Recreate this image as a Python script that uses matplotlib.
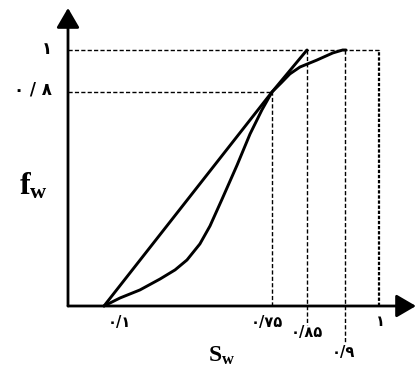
#!/usr/bin/env python3

import matplotlib
matplotlib.use('Agg')
import matplotlib.pyplot as plt
import numpy as np

# fractional flow curve (Sw, fw)
sw_curve = [0.1, 0.162, 0.239, 0.317, 0.375, 0.421, 0.471, 0.51, 0.557, 0.615, 0.665,
            0.711, 0.75, 0.776, 0.801, 0.83, 0.863, 0.884, 0.897, 0.903]
fw_curve = [0.0, 0.03, 0.06, 0.101, 0.135, 0.172, 0.232, 0.299, 0.4, 0.527, 0.643,
            0.733, 0.8, 0.843, 0.886, 0.919, 0.952, 0.986, 1.0, 1.0]

# tangent from Swc through the tangent point up to fw = 1
sw_tangent = [0.1, 0.75, 0.85]
fw_tangent = [0.0, 0.8, 1.0]

sw_ticks = [0.1, 0.75, 0.85, 0.9, 1.0]
sw_labels = ['۰/۱', '۰/۷۵', '۰/۸۵', '۰/۹', '۱']
fw_ticks = [1.0, 0.8]
fw_labels = ['۱', '۰ / ۸']

# the sketch is not drawn to scale, so the axes use a piecewise scale
SW_KNOTS = [-0.5, 0.0, 0.1, 0.75, 0.85, 0.9, 1.0, 1.5]
X_PIX = [-112, 68, 104, 272, 307, 345, 379, 549]
FW_KNOTS = [-0.5, 0.0, 0.8, 1.0, 1.5]
Y_PIX = [-70, 64, 278, 320, 425]


def fx(v):
    return np.interp(v, SW_KNOTS, X_PIX)


def fx_inv(p):
    return np.interp(p, X_PIX, SW_KNOTS)


def fy(v):
    return np.interp(v, FW_KNOTS, Y_PIX)


def fy_inv(p):
    return np.interp(p, Y_PIX, FW_KNOTS)


def plot():
    plt.rcParams['font.family'] = ['DejaVu Sans', 'Noto Sans']
    plt.rcParams['mathtext.fontset'] = 'custom'
    plt.rcParams['mathtext.bf'] = 'Liberation Serif:bold'
    plt.rcParams['mathtext.rm'] = 'Liberation Serif'

    fig = plt.figure(figsize=(4.16, 3.70), dpi=100)
    ax = fig.add_axes([0, 0, 1, 1])
    ax.set_xscale('function', functions=(fx, fx_inv))
    ax.set_yscale('function', functions=(fy, fy_inv))
    ax.set_xlim(fx_inv(0), fx_inv(416))
    ax.set_ylim(fy_inv(0), fy_inv(370))
    ax.axis('off')

    dash = dict(color='k', lw=1.0, ls=(0, (3, 1.6)))
    ax.plot([0, 1.0], [1.0, 1.0], **dash)
    ax.plot([0, 0.75], [0.8, 0.8], **dash)
    ax.plot([0.75, 0.75], [0, 0.8], **dash)
    ax.plot([0.85, 0.85], [1.0, fy_inv(45)], **dash)
    ax.plot([0.9, 0.9], [1.0, fy_inv(27)], **dash)
    ax.plot([1.0, 1.0], [0, 1.0], color='k', lw=1.6, ls=(0, (1.5, 0.8)))

    ax.plot(sw_curve, fw_curve, color='k', lw=2.1, solid_joinstyle='round',
            solid_capstyle='round')
    ax.plot(sw_tangent, fw_tangent, color='k', lw=2.1, solid_capstyle='round')

    # axes with arrow heads
    arrow = dict(arrowstyle='-|>,head_length=0.6,head_width=0.35', lw=2.0,
                 color='k', mutation_scale=20, shrinkA=0, shrinkB=0)
    ax.annotate('', xy=(fx_inv(416), 0), xytext=(0, 0), arrowprops=arrow)
    ax.annotate('', xy=(0, fy_inv(362)), xytext=(0, 0), arrowprops=arrow)

    x_offsets = [(15, -16), (-5, -16), (0, -27), (-2, -46), (1, -16)]
    for v, lab, off in zip(sw_ticks, sw_labels, x_offsets):
        ax.annotate(lab, xy=(v, 0), xytext=off, textcoords='offset pixels',
                    ha='center', va='center', fontsize=10.5, fontweight='bold')

    y_offsets = [(-21, 1), (-35, 2)]
    for v, lab, off in zip(fw_ticks, fw_labels, y_offsets):
        ax.annotate(lab, xy=(0, v), xytext=off, textcoords='offset pixels',
                    ha='center', va='center', fontsize=12, fontweight='bold')

    fig.text(33 / 416, 1 - 186 / 370, r'$\mathbf{f_w}$', ha='center', va='center',
             fontsize=23)
    fig.text(222 / 416, 1 - 355 / 370, r'$\mathbf{S_w}$', ha='center', va='center',
             fontsize=17)

    fig.savefig('out.png', dpi=100)


if __name__ == "__main__":
    plot()
